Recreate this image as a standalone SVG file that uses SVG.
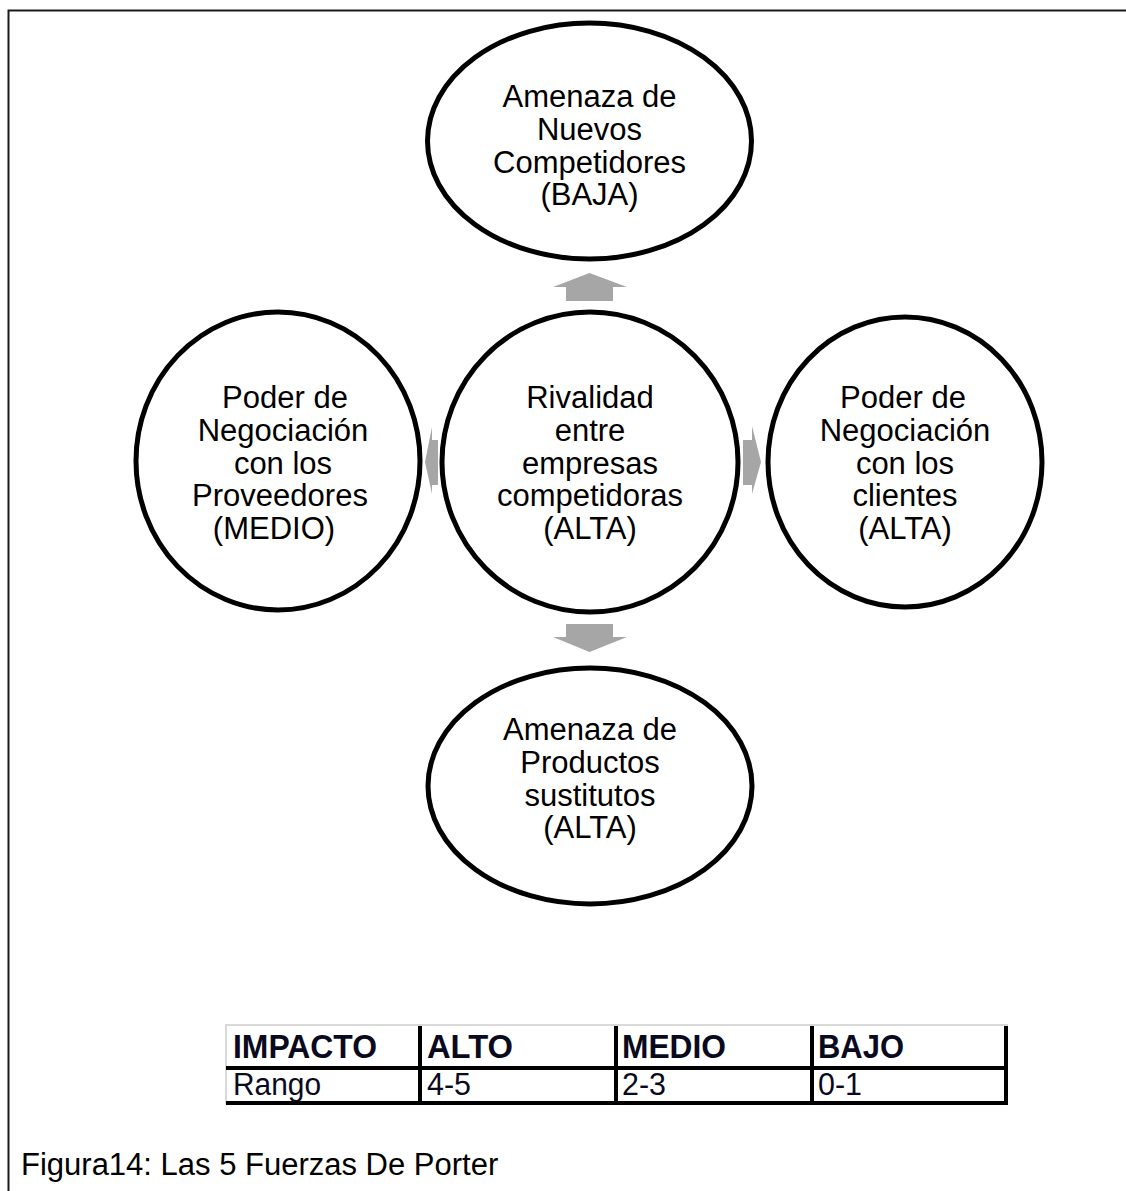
<svg xmlns="http://www.w3.org/2000/svg" width="1126" height="1191" viewBox="0 0 1126 1191">
  <style>
    .force { fill: #ffffff; stroke: #000000; stroke-width: 5; }
    .label { font-family: "Liberation Sans", Arial, sans-serif; font-size: 31px; fill: #000000; text-anchor: middle; }
    .arrow { fill: #a6a6a6; stroke: none; }
    .grid { stroke: #000000; stroke-width: 4; fill: none; }
    .th { font-family: "Liberation Sans Narrow", "Liberation Sans", Arial, sans-serif; font-size: 33px; font-weight: bold; fill: #0a0a1e; }
    .td { font-family: "Liberation Sans Narrow", "Liberation Sans", Arial, sans-serif; font-size: 31px; fill: #0a0a1e; }
    .caption { font-family: "Liberation Sans", Arial, sans-serif; font-size: 31px; fill: #000000; }
  </style>

  <!-- page frame -->
  <path d="M8.5 1191 V10.5 H1126" fill="none" stroke="#1a1a1a" stroke-width="2"/>

  <!-- block arrows from the central rivalry circle -->
  <g id="connectors">
    <polygon class="arrow" points="566,301 566,287 553,287 589.5,273 627,287 613,287 613,301"/>
    <polygon class="arrow" points="566,624 613,624 613,637 627,637 589.5,652 553,637 566,637"/>
    <polygon class="arrow" points="438,440 432,440 432,427 425,462 432,494 432,485 438,485"/>
    <polygon class="arrow" points="743,440 752,440 752,426 761,462 752,494 752,485 743,485"/>
  </g>

  <g id="nuevos-competidores">
    <ellipse class="force" cx="589.5" cy="141" rx="162" ry="118"/>
    <text class="label" x="589.5" y="107">Amenaza de</text>
    <text class="label" x="589.5" y="140">Nuevos</text>
    <text class="label" x="589.5" y="173">Competidores</text>
    <text class="label" x="589.5" y="205">(BAJA)</text>
  </g>

  <g id="rivalidad">
    <ellipse class="force" cx="590" cy="462" rx="148" ry="150"/>
    <text class="label" x="590" y="408">Rivalidad</text>
    <text class="label" x="590" y="441">entre</text>
    <text class="label" x="590" y="474">empresas</text>
    <text class="label" x="590" y="506">competidoras</text>
    <text class="label" x="590" y="539">(ALTA)</text>
  </g>

  <g id="proveedores">
    <ellipse class="force" cx="278" cy="461" rx="142" ry="149"/>
    <text class="label" x="285" y="408">Poder de</text>
    <text class="label" x="283" y="441">Negociación</text>
    <text class="label" x="283" y="474">con los</text>
    <text class="label" x="280" y="506">Proveedores</text>
    <text class="label" x="274" y="539">(MEDIO)</text>
  </g>

  <g id="clientes">
    <ellipse class="force" cx="905" cy="462" rx="137" ry="145"/>
    <text class="label" x="903" y="408">Poder de</text>
    <text class="label" x="905" y="441">Negociación</text>
    <text class="label" x="905" y="474">con los</text>
    <text class="label" x="905" y="506">clientes</text>
    <text class="label" x="905" y="539">(ALTA)</text>
  </g>

  <g id="productos-sustitutos">
    <ellipse class="force" cx="590" cy="786" rx="162" ry="118"/>
    <text class="label" x="590" y="740">Amenaza de</text>
    <text class="label" x="590" y="773">Productos</text>
    <text class="label" x="590" y="806">sustitutos</text>
    <text class="label" x="590" y="838">(ALTA)</text>
  </g>

  <!-- impact scale table -->
  <g id="tabla-impacto">
    <rect x="226" y="1025" width="781" height="78" fill="#ffffff" stroke="#d9d9d9" stroke-width="2"/>
    <line class="grid" x1="226" y1="1068" x2="1007" y2="1068"/>
    <line class="grid" x1="226" y1="1103" x2="1007" y2="1103"/>
    <line class="grid" x1="420" y1="1026" x2="420" y2="1105"/>
    <line class="grid" x1="616" y1="1026" x2="616" y2="1105"/>
    <line class="grid" x1="812" y1="1026" x2="812" y2="1105"/>
    <line class="grid" x1="1006" y1="1026" x2="1006" y2="1105"/>
    <text class="th" x="233" y="1058" textLength="144" lengthAdjust="spacingAndGlyphs">IMPACTO</text>
    <text class="th" x="427" y="1058" textLength="86" lengthAdjust="spacingAndGlyphs">ALTO</text>
    <text class="th" x="622" y="1058" textLength="104" lengthAdjust="spacingAndGlyphs">MEDIO</text>
    <text class="th" x="818" y="1058" textLength="86" lengthAdjust="spacingAndGlyphs">BAJO</text>
    <text class="td" x="233" y="1095" textLength="88" lengthAdjust="spacingAndGlyphs">Rango</text>
    <text class="td" x="427" y="1095" textLength="44" lengthAdjust="spacingAndGlyphs">4-5</text>
    <text class="td" x="622" y="1095" textLength="44" lengthAdjust="spacingAndGlyphs">2-3</text>
    <text class="td" x="818" y="1095" textLength="44" lengthAdjust="spacingAndGlyphs">0-1</text>
  </g>

  <text class="caption" x="21" y="1175">Figura14: Las 5 Fuerzas De Porter</text>
</svg>
